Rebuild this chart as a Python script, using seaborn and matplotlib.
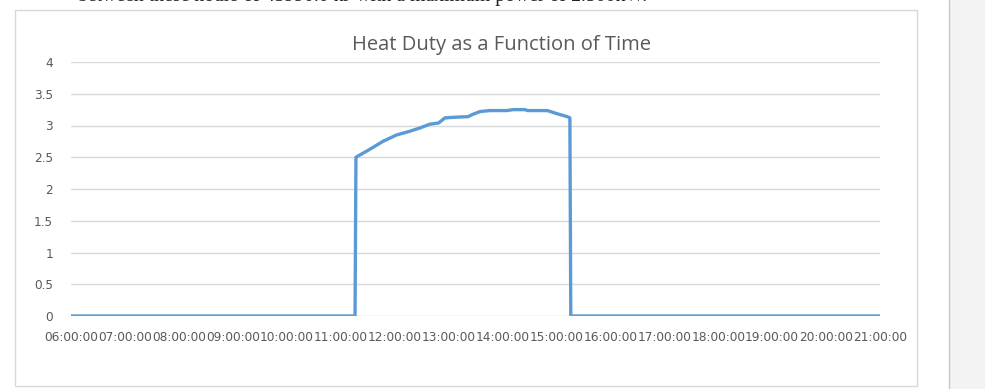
import matplotlib
matplotlib.use('Agg')
import matplotlib.pyplot as plt
import seaborn as sns
import pandas as pd
import numpy as np
from matplotlib.patches import Rectangle

# Heat duty readings (kW) against time of day
times = ["06:00", "11:16", "11:17", "11:33", "11:47", "12:02", "12:17", "12:28",
         "12:39", "12:49", "12:56", "13:07", "13:22", "13:26", "13:35", "13:46",
         "14:05", "14:12", "14:25", "14:28", "14:50", "15:02", "15:12", "15:15",
         "15:16", "21:00"]
duty = [0, 0, 2.50, 2.63, 2.75, 2.85, 2.91, 2.96,
        3.02, 3.04, 3.12, 3.13, 3.14, 3.17, 3.22, 3.235,
        3.235, 3.25, 3.25, 3.235, 3.235, 3.18, 3.14, 3.12,
        0, 0]
hour_labels = [f"{h:02d}:00:00" for h in range(6, 22)]
y_ticks = [0, 0.5, 1, 1.5, 2, 2.5, 3, 3.5, 4]

df = pd.DataFrame({"time": times, "duty": duty})
t = pd.to_datetime(df["time"], format="%H:%M")
df["hour"] = t.dt.hour + t.dt.minute / 60.0

sns.set_style("white")
plt.rcParams['font.family'] = ['DejaVu Sans']

fig = plt.figure(figsize=(9.85, 3.89), dpi=100)
W, H = 985, 389

# document background: side panel, chart frame, clipped line of text above
fig.patches.append(Rectangle((949 / W, 0), (W - 949) / W, 1, transform=fig.transFigure,
                             facecolor='#f3f3f3', edgecolor='none', zorder=-2))
fig.add_artist(plt.Line2D([949 / W, 949 / W], [0, 1], transform=fig.transFigure,
                          color='#c8c8c8', lw=1, zorder=-1))
fig.patches.append(Rectangle((15 / W, 1 - 386 / H), (917 - 15) / W, (386 - 10) / H,
                             transform=fig.transFigure, facecolor='white',
                             edgecolor='#d9d9d9', lw=1, zorder=-1))
fig.text(78 / W, 1 - 0.5 / H, "between these hours of 45990.0 kJ with a maximum power of 2.500kW.",
         family='Liberation Serif', fontsize=14.2, color='#222222', va='baseline', ha='left')

ax = fig.add_axes([71 / W, 1 - 316 / H, (880 - 71) / W, (316 - 62) / H])
ax.set_facecolor('none')
sns.lineplot(data=df, x="hour", y="duty", ax=ax, color='#5b9bd5', lw=2.4,
             solid_joinstyle='round', zorder=3)

ax.set_xlim(6, 21)
ax.set_ylim(0, 4)
ax.set_yticks(y_ticks)
ax.set_yticklabels([f"{v:g}" for v in y_ticks])
ax.set_xticks(np.arange(6, 22))
ax.set_xticklabels(hour_labels)
ax.tick_params(axis='both', length=0, labelsize=8.7, labelcolor='#595959')
ax.tick_params(axis='y', pad=13)
ax.tick_params(axis='x', pad=11)
ax.grid(axis='y', color='#d9d9d9', lw=1)
ax.set_axisbelow(True)
for s in ax.spines.values():
    s.set_visible(False)
ax.set_xlabel("")
ax.set_ylabel("")

fig.text(502 / W, 1 - 45 / H, "Heat Duty as a Function of Time", ha='center', va='center',
         fontsize=14.5, color='#595959', family='Open Sans')

fig.savefig("out.png", dpi=100, facecolor='white')
